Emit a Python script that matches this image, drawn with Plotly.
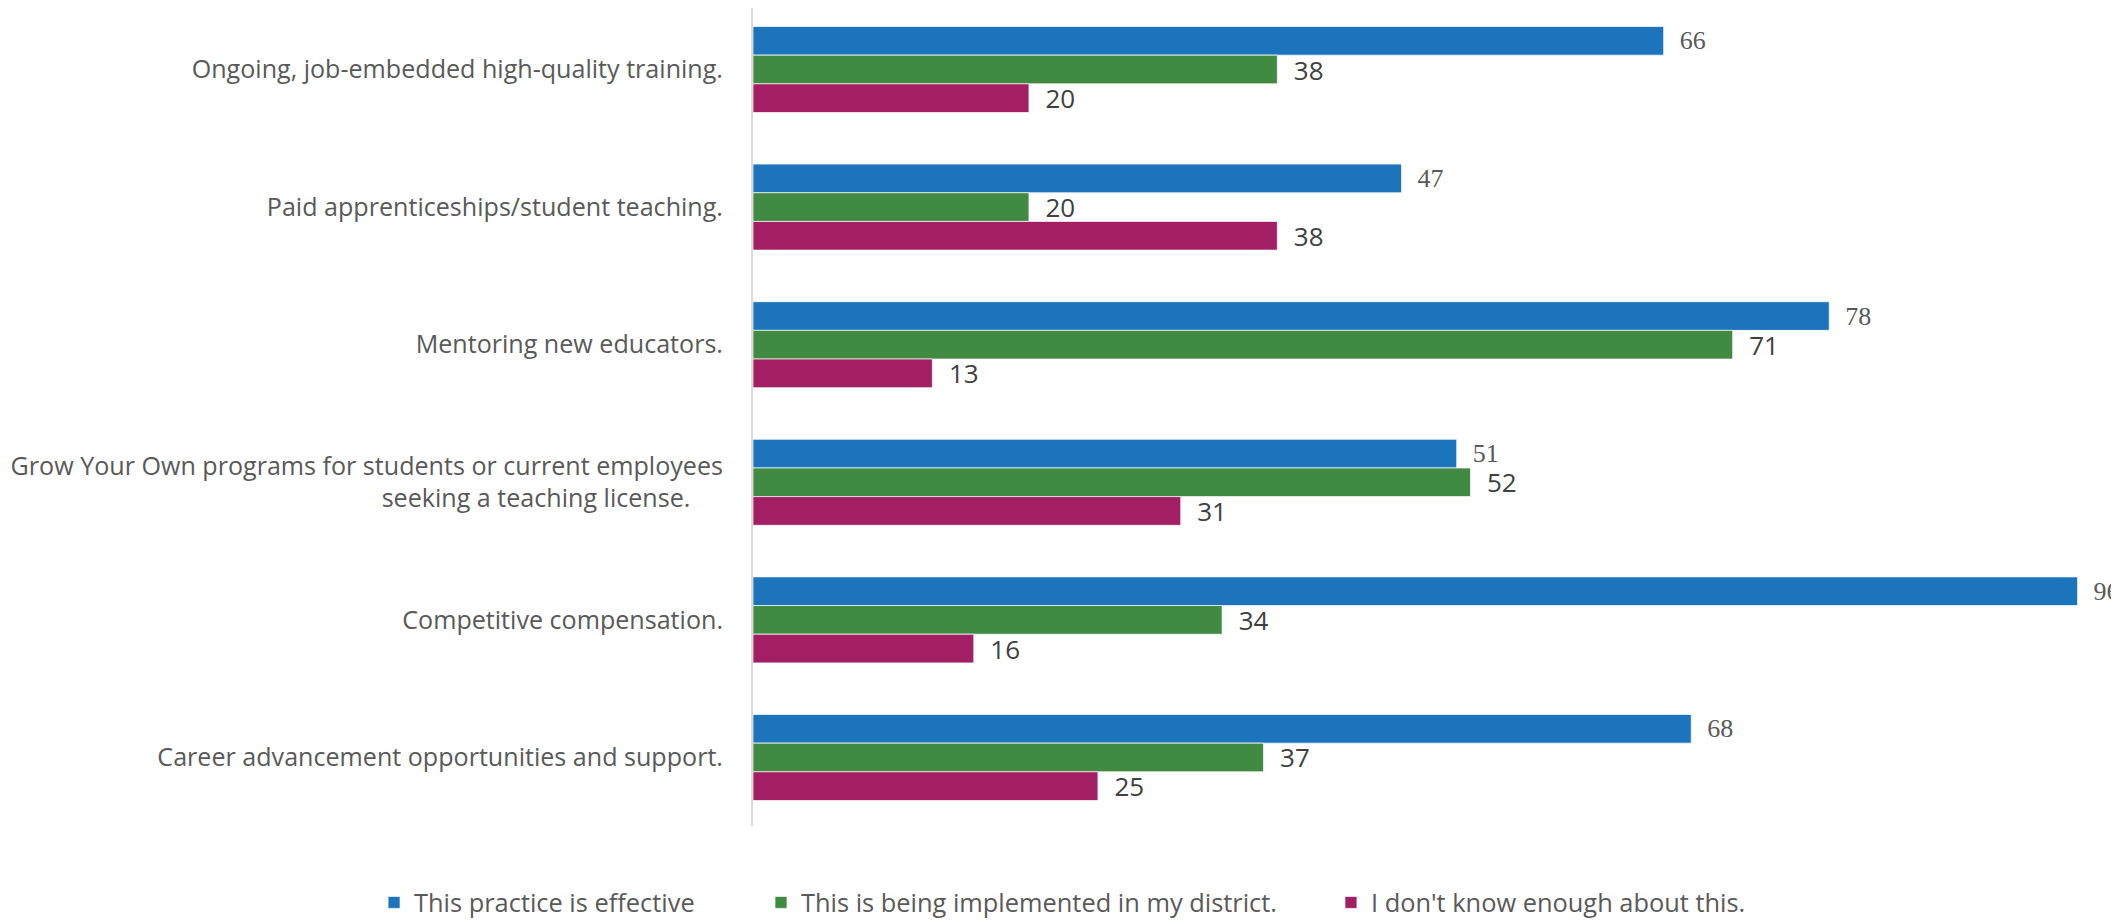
import plotly.graph_objects as go

categories = [
    "Ongoing, job-embedded high-quality training.",
    "Paid apprenticeships/student teaching.",
    "Mentoring new educators.",
    "Grow Your Own programs for students or current employees<br>seeking a teaching license.\u00a0\u00a0\u00a0\u00a0\u00a0",
    "Competitive compensation.",
    "Career advancement opportunities and support.",
]
series_names = [
    "This practice is effective",
    "This is being implemented in my district.",
    "I don't know enough about this.",
]
effective = [66, 47, 78, 51, 96, 68]
implemented = [38, 20, 71, 52, 34, 37]
dont_know = [20, 38, 13, 31, 16, 25]

colors = ["#1c75bc", "#418a41", "#a11f62"]
label_fonts = [
    dict(family="Liberation Serif, serif", size=26, color="#595959"),
    dict(family="Open Sans, sans-serif", size=26, color="#404040"),
    dict(family="Open Sans, sans-serif", size=26, color="#404040"),
]
legend_x = [0.1734, 0.3567, 0.6267]
legend_ids = ["legend", "legend2", "legend3"]

fig = go.Figure()
for i, (name, vals) in enumerate(zip(series_names, [effective, implemented, dont_know])):
    fig.add_trace(go.Bar(
        y=categories, x=vals, orientation="h", name=name,
        marker=dict(color=colors[i], line=dict(color="rgba(255,255,255,0.7)", width=1)),
        text=vals, texttemplate="\u00a0\u00a0%{x}", textposition="outside",
        textfont=label_fonts[i], cliponaxis=False, constraintext="none",
        legend=legend_ids[i], hoverinfo="skip",
    ))

layout_legends = {}
for i, lid in enumerate(legend_ids):
    layout_legends[lid] = dict(
        orientation="h", xref="container", yref="container",
        x=legend_x[i], y=0.022, xanchor="left", yanchor="middle",
        font=dict(family="Open Sans, sans-serif", size=25.4, color="#595959"),
        itemwidth=30, bgcolor="rgba(0,0,0,0)",
    )

fig.update_layout(
    width=2111, height=915,
    margin=dict(l=745, r=0, t=0, b=97),
    paper_bgcolor="white", plot_bgcolor="white",
    barmode="group", bargap=0.375, bargroupgap=0,
    showlegend=True,
    xaxis=dict(range=[0, 99], visible=False, showgrid=False, zeroline=False),
    yaxis=dict(
        range=[5.498, -0.447], automargin=False,
        showline=True, linecolor="#d9d9d9", linewidth=2,
        showgrid=False, ticks="", ticklabelstandoff=23,
        tickfont=dict(family="Open Sans, sans-serif", size=25.1, color="#595959"),
    ),
    **layout_legends,
)

fig.write_html("out.html")
